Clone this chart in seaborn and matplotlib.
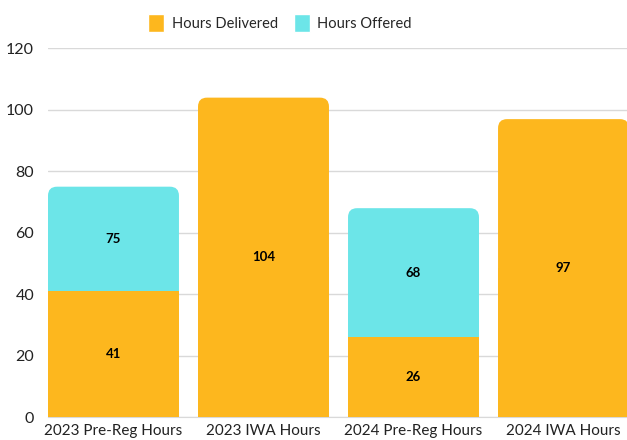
import seaborn as sns
import matplotlib.pyplot as plt
import pandas as pd
import numpy as np
from matplotlib.patches import FancyBboxPatch, Rectangle, Patch

sns.set_style("white")
plt.rcParams["font.family"] = ["Lato", "DejaVu Sans"]

# Data
categories = ["2023 Pre-Reg Hours", "2023 IWA Hours", "2024 Pre-Reg Hours", "2024 IWA Hours"]
hours_delivered = [41, 104, 26, 97]
hours_offered = [75, np.nan, 68, np.nan]

orange = "#FDB71E"
cyan = "#6CE5E8"
bar_w = 0.873

df = pd.DataFrame({"category": categories,
                   "delivered": hours_delivered,
                   "offered": np.nan_to_num(hours_offered)})

fig = plt.figure(figsize=(6.27, 4.40), dpi=100)
ax = fig.add_axes([48 / 627, 23 / 440, 581 / 627, 368.5 / 440])

# offered totals behind, delivered in front (stacked look)
sns.barplot(data=df, x="category", y="offered", color=cyan, width=bar_w,
            saturation=1, linewidth=0, ax=ax, zorder=2)
n_off = len(ax.patches)
sns.barplot(data=df, x="category", y="delivered", color=orange, width=bar_w,
            saturation=1, linewidth=0, ax=ax, zorder=3)

ax.set_xlim(-bar_w / 2, 3 + bar_w / 2)
ax.set_ylim(0, 120)
ax.set_yticks(range(0, 121, 20))

# round the top corners of the topmost segments
fig.canvas.draw()
px_x = ax.transData.transform((1, 0))[0] - ax.transData.transform((0, 0))[0]
px_y = ax.transData.transform((0, 1))[1] - ax.transData.transform((0, 0))[1]
r_px = 9
rx = r_px / px_x
aspect = px_x / px_y

patches = list(ax.patches)
offered_bars = patches[:n_off]
delivered_bars = patches[n_off:]
n = len(categories)
for i in range(n):
    db = delivered_bars[i]
    ob = offered_bars[i] if i < len(offered_bars) else None
    has_offer = ob is not None and ob.get_height() > 0
    top = ob if has_offer else db
    x, y = top.get_x(), top.get_y()
    w, h = top.get_width(), top.get_height()
    col = top.get_facecolor()
    z = top.get_zorder()
    top.set_visible(False)
    ax.add_patch(FancyBboxPatch((x, y), w, h,
                                boxstyle=f"round,pad=0,rounding_size={rx}",
                                mutation_aspect=aspect, facecolor=col,
                                edgecolor="none", linewidth=0, zorder=z))
    ax.add_patch(Rectangle((x, y), w, h / 2, facecolor=col,
                           edgecolor="none", linewidth=0, zorder=z))

# value labels
for i in range(n):
    d = hours_delivered[i]
    ax.text(i, d / 2, str(d), ha="center", va="center",
            fontsize=9.5, fontweight="bold", color="black", zorder=5)
    o = hours_offered[i]
    if not np.isnan(o):
        ax.text(i, (d + o) / 2, str(int(o)), ha="center", va="center",
                fontsize=9.5, fontweight="bold", color="black", zorder=5)

ax.yaxis.grid(True, color="#D9D9D9", linewidth=1)
ax.set_axisbelow(True)
for s in ["top", "right", "left"]:
    ax.spines[s].set_visible(False)
ax.spines["bottom"].set_color("#D9D9D9")
ax.tick_params(axis="both", length=0, colors="#222222")
ax.tick_params(axis="x", pad=5, labelsize=11)
ax.tick_params(axis="y", pad=10, labelsize=11.5)
ax.set_xlabel("")
ax.set_ylabel("")

handles = [Patch(facecolor=orange, label="Hours Delivered"),
           Patch(facecolor=cyan, label="Hours Offered")]
fig.legend(handles=handles, loc="center", bbox_to_anchor=(280 / 627, 1 - 23 / 440),
           ncol=2, frameon=False, fontsize=10.5, handlelength=1.1, handleheight=1.6,
           columnspacing=1.1, handletextpad=0.5)

fig.savefig("out.png", dpi=100)
plt.close(fig)
